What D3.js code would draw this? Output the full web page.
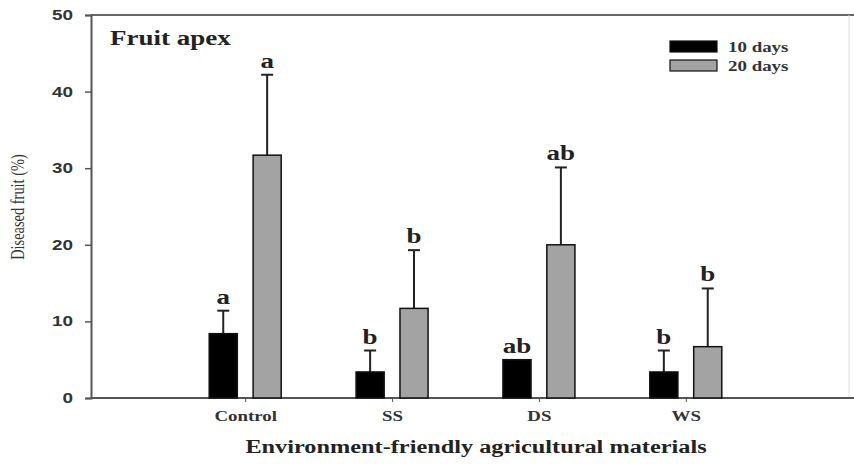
<!DOCTYPE html>
<html>
<head>
<meta charset="utf-8">
<script src="https://cdn.jsdelivr.net/npm/d3@7"></script>
<style>
  html, body { margin: 0; padding: 0; background: #fff; }
  svg { display: block; }
</style>
</head>
<body>
<svg id="chart" width="854" height="464"></svg>
<script>
// ---------- data ----------
const categories = ["Control", "SS", "DS", "WS"];
const seriesNames = ["10 days", "20 days"];
const values10 = [8.4, 3.4, 5.0, 3.4];
const errors10 = [3.0, 2.8, 0, 2.8];
const letters10 = ["a", "b", "ab", "b"];
const values20 = [31.7, 11.7, 20.0, 6.7];
const errors20 = [10.5, 7.6, 10.1, 7.6];
const letters20 = ["a", "b", "ab", "b"];
const yTicks = [0, 10, 20, 30, 40, 50];
const title = "Fruit apex";
const xTitle = "Environment-friendly agricultural materials";
const yTitle = "Diseased fruit (%)";
const colors = ["#000000", "#a3a3a3"];

(function () {
const svg = d3.select("#chart");
const pL = 91, pR = 849, pT = 15, pB = 398;
const SX = 1.35; // horizontal stretch of the original typography

function stretch(sel, k) {
  sel.each(function () {
    const w = this.getComputedTextLength();
    this.setAttribute("textLength", w * k);
    this.setAttribute("lengthAdjust", "spacingAndGlyphs");
  });
}

const y = d3.scaleLinear().domain([0, 50]).range([pB, pT]);
const x = d3.scalePoint().domain(categories).range([pL, 840]).padding(1.05);
const x1 = d3.scaleBand().domain(seriesNames).range([-36, 36]).paddingInner(0.36).paddingOuter(0);

// frame (top & right)
svg.append("line").attr("x1", pL).attr("x2", 854).attr("y1", pT).attr("y2", pT)
  .attr("stroke", "#666").attr("stroke-width", 2);
svg.append("line").attr("x1", pR).attr("x2", pR).attr("y1", pT).attr("y2", pB)
  .attr("stroke", "#ddd").attr("stroke-width", 1);

// y axis
const yAxis = svg.append("g").attr("transform", `translate(${pL},0)`)
  .call(d3.axisLeft(y).tickValues(yTicks).tickSize(6).tickPadding(12).tickFormat(d3.format("d")));
yAxis.select(".domain").attr("stroke", "#555").attr("stroke-width", 2);
yAxis.selectAll(".tick line").attr("stroke", "#555").attr("stroke-width", 1.5);
yAxis.selectAll("text").attr("font-family", "Liberation Sans, Arial, sans-serif")
  .attr("font-weight", "bold").attr("font-size", 14).attr("fill", "#333");
stretch(yAxis.selectAll("text"), SX);

// x axis
const xAxis = svg.append("g").attr("transform", `translate(0,${pB})`)
  .call(d3.axisBottom(x).tickSize(4).tickPadding(9).tickSizeOuter(0));
xAxis.select(".domain").attr("stroke", "#555").attr("stroke-width", 2)
  .attr("d", `M${pL},0H854`);
xAxis.selectAll(".tick line").attr("stroke", "#555").attr("stroke-width", 1);
xAxis.selectAll("text").attr("font-family", "Liberation Serif, Times New Roman, serif")
  .attr("font-weight", "bold").attr("font-size", 14).attr("fill", "#333");
stretch(xAxis.selectAll("text"), SX);

// bars
const series = [
  { name: seriesNames[0], vals: values10, errs: errors10, lets: letters10, color: colors[0] },
  { name: seriesNames[1], vals: values20, errs: errors20, lets: letters20, color: colors[1] }
];
const bw = x1.bandwidth();
series.forEach(s => {
  const g = svg.append("g");
  categories.forEach((c, i) => {
    const bx = x(c) + x1(s.name);
    const cx = bx + bw / 2;
    const v = s.vals[i], e = s.errs[i];
    if (e > 0) {
      g.append("line").attr("x1", cx).attr("x2", cx).attr("y1", y(v)).attr("y2", y(v + e))
        .attr("stroke", "#222").attr("stroke-width", 2);
      g.append("line").attr("x1", cx - 6).attr("x2", cx + 6).attr("y1", y(v + e)).attr("y2", y(v + e))
        .attr("stroke", "#222").attr("stroke-width", 2);
    }
    g.append("rect").attr("x", bx).attr("y", y(v)).attr("width", bw).attr("height", y(0) - y(v))
      .attr("fill", s.color).attr("stroke", "#111").attr("stroke-width", 1.5);
    const t = g.append("text").attr("x", cx).attr("y", y(v + e) - 7)
      .attr("text-anchor", "middle")
      .attr("font-family", "Liberation Serif, Times New Roman, serif")
      .attr("font-weight", "bold").attr("font-size", 20).attr("fill", "#222")
      .text(s.lets[i]);
    stretch(t, SX);
  });
});

// title
const tt = svg.append("text").attr("x", 110).attr("y", 45)
  .attr("font-family", "Liberation Serif, Times New Roman, serif")
  .attr("font-weight", "bold").attr("font-size", 20).attr("fill", "#222").text(title);
stretch(tt, SX);

// legend
const leg = svg.append("g");
series.forEach((s, i) => {
  const ly = 41 + i * 19;
  leg.append("rect").attr("x", 670).attr("y", ly).attr("width", 47).attr("height", 11)
    .attr("fill", s.color).attr("stroke", "#111").attr("stroke-width", 1.2);
  const lt = leg.append("text").attr("x", 728).attr("y", ly + 11)
    .attr("font-family", "Liberation Serif, Times New Roman, serif")
    .attr("font-weight", "bold").attr("font-size", 14).attr("fill", "#333").text(s.name);
  stretch(lt, SX);
});

// axis titles
const xt = svg.append("text").attr("x", 476).attr("y", 453).attr("text-anchor", "middle")
  .attr("font-family", "Liberation Serif, Times New Roman, serif")
  .attr("font-weight", "bold").attr("font-size", 18).attr("fill", "#222").text(xTitle);
stretch(xt, SX);

const yt = svg.append("text").attr("transform", "translate(24,207) rotate(-90)")
  .attr("text-anchor", "middle")
  .attr("font-family", "Liberation Serif, Times New Roman, serif")
  .attr("font-size", 18).attr("fill", "#333").text(yTitle);
stretch(yt, 0.8);
})();
</script>
</body>
</html>
